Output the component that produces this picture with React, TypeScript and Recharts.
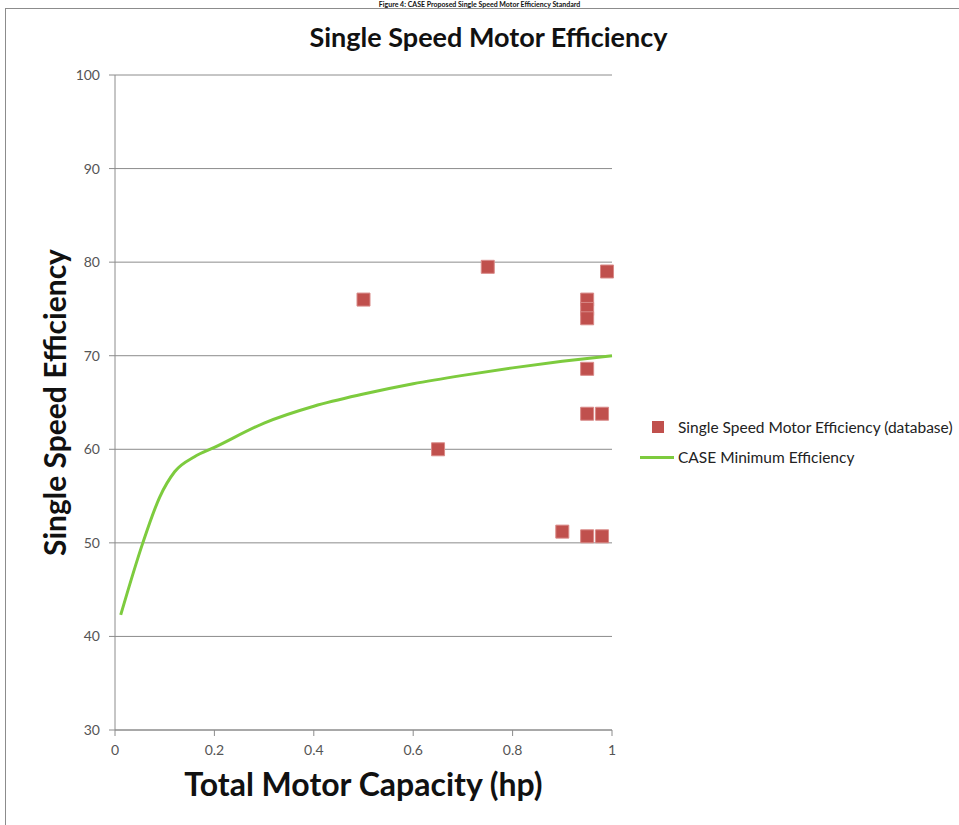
import React from 'react'
import { ComposedChart, Line, Scatter, XAxis, YAxis, ZAxis, CartesianGrid } from 'recharts'

const FONT = "Lato, 'Open Sans', sans-serif"

// CASE minimum efficiency curve
const capX = [0.0115, 0.056, 0.09, 0.12, 0.16, 0.2, 0.3, 0.4, 0.5, 0.6, 0.7, 0.8, 0.9, 1.0]
const minEff = [42.3, 50.0, 54.9, 57.6, 59.2, 60.2, 62.8, 64.6, 65.9, 67.0, 67.9, 68.7, 69.4, 70.0]

// database motors
const dbX = [0.5, 0.75, 0.99, 0.95, 0.95, 0.95, 0.95, 0.95, 0.98, 0.65, 0.9, 0.95, 0.98]
const dbEff = [76, 79.5, 79, 76, 75, 74, 68.6, 63.8, 63.8, 60, 51.2, 50.7, 50.7]

const xTicks = [0, 0.2, 0.4, 0.6, 0.8, 1]
const yTicks = [30, 40, 50, 60, 70, 80, 90, 100]

const curve = capX.map((x, i) => ({ x, y: minEff[i] }))
const points = dbX.map((x, i) => ({ x, y: dbEff[i] }))

const RED = '#C0504D'
const GREEN = '#7DCB3E'
const AXIS = '#8C8C8C'

export default function App() {
  const tick = { fill: '#555', fontSize: 14, fontFamily: FONT }
  return (
    <div style={{ position: 'absolute', left: 0, top: 0, width: 959, height: 825, overflow: 'hidden', background: '#fff' }}>
      <div style={{ position: 'absolute', left: 0, top: 0, width: 959, textAlign: 'center', fontFamily: FONT, fontWeight: 700, fontSize: 7, lineHeight: '8px', color: '#111', whiteSpace: 'nowrap' }}>
        Figure 4: CASE Proposed Single Speed Motor Efficiency Standard
      </div>
      <div style={{ position: 'absolute', left: 5, top: 8, width: 1000, height: 900, border: `1px solid ${AXIS}` }} />
      <div style={{ position: 'absolute', left: 0, top: 20, width: 959, textAlign: 'center', paddingLeft: 18, boxSizing: 'border-box', fontFamily: FONT, fontWeight: 700, fontSize: 27, color: '#111' }}>
        Single Speed Motor Efficiency
      </div>
      <div style={{ position: 'absolute', left: 0, top: 0 }}>
        <ComposedChart width={959} height={825} margin={{ top: 75, right: 347, bottom: 65, left: 55 }}>
          <CartesianGrid vertical={false} stroke={AXIS} strokeWidth={1} />
          <XAxis
            type="number"
            dataKey="x"
            domain={[0, 1]}
            ticks={xTicks}
            tick={tick}
            tickLine={{ stroke: AXIS }}
            axisLine={{ stroke: AXIS }}
            tickSize={6}
            tickMargin={9}
            height={30}
            tickFormatter={(v: number) => String(v)}
            label={{ value: 'Total Motor Capacity (hp)', position: 'insideBottom', offset: -36, style: { fontFamily: FONT, fontWeight: 700, fontSize: 32, fill: '#111' } }}
          />
          <YAxis
            type="number"
            dataKey="y"
            domain={[30, 100]}
            ticks={yTicks}
            tick={tick}
            tickLine={{ stroke: AXIS }}
            axisLine={{ stroke: AXIS }}
            tickSize={6}
            tickMargin={9}
            width={60}
            label={{ value: 'Single Speed Efficiency', angle: -90, position: 'insideLeft', offset: 0, style: { fontFamily: FONT, fontWeight: 700, fontSize: 30, fill: '#111', textAnchor: 'middle' } }}
          />
          <ZAxis range={[169, 169]} />
          <Scatter data={points} dataKey="y" fill={RED} stroke="#D98A88" strokeWidth={1} shape="square" name="Single Speed Motor Efficiency (database)" isAnimationActive={false} />
          <Line data={curve} dataKey="y" type="monotone" stroke={GREEN} strokeWidth={3} dot={false} activeDot={false} name="CASE Minimum Efficiency" isAnimationActive={false} />
        </ComposedChart>
      </div>
      <div style={{ position: 'absolute', left: 640, top: 416, fontFamily: FONT, fontSize: 15.5, color: '#222' }}>
        <div style={{ display: 'flex', alignItems: 'center', height: 22 }}>
          <span style={{ width: 12, height: 12, background: RED, marginLeft: 12, marginRight: 14 }} />
          <span>Single Speed Motor Efficiency (database)</span>
        </div>
        <div style={{ display: 'flex', alignItems: 'center', height: 22, marginTop: 8 }}>
          <span style={{ width: 34, height: 3, background: GREEN, marginRight: 4 }} />
          <span>CASE Minimum Efficiency</span>
        </div>
      </div>
    </div>
  )
}
